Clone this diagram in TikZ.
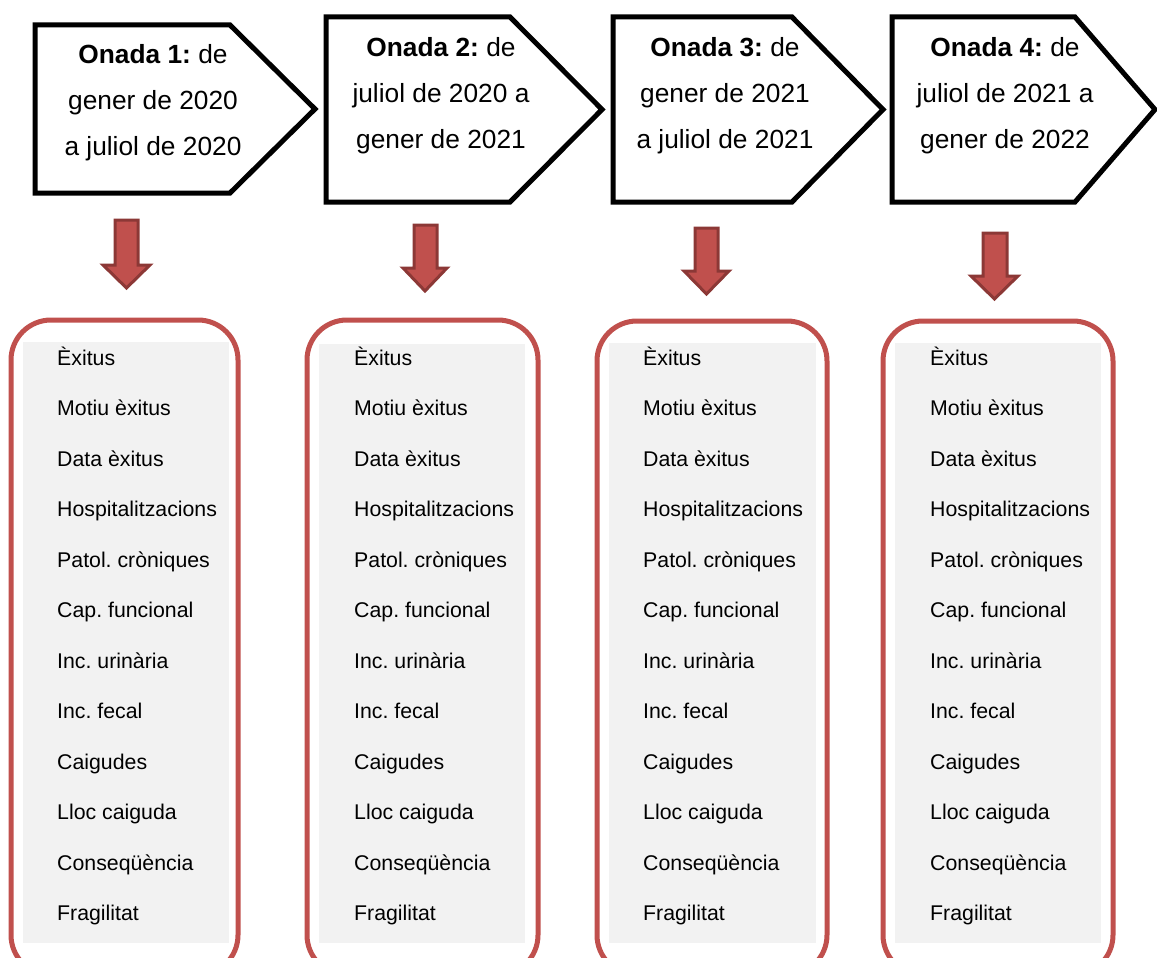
\documentclass[tikz,border=0pt]{standalone}
\usepackage{fontspec}
\setmainfont{Liberation Sans}
\definecolor{boxred}{HTML}{C0504D}
\definecolor{arrowedge}{HTML}{8C3836}
\definecolor{listgray}{HTML}{F2F2F2}
\frenchspacing
\begin{document}
\begin{tikzpicture}[x=1pt,y=-1pt,
  wave/.style={draw=black,line width=5pt,fill=white,line join=miter},
  wavetext/.style={align=center,anchor=north,inner sep=0pt,
    font=\fontsize{26.3}{46}\selectfont},
  downarrow/.style={fill=boxred,draw=arrowedge,line width=3pt,line join=miter},
  listframe/.style={draw=boxred,line width=5pt,rounded corners=40pt},
  listback/.style={fill=listgray},
  listitem/.style={anchor=base west,inner sep=0pt,
    font=\fontsize{21.3}{25}\selectfont}]
\useasboundingbox (0,0) rectangle (1157,958);
\clip (0,0) rectangle (1157,958);

% pentagon headers, one per wave
\foreach \n/\L/\T/\B/\S/\P/\tx/\tb/\txt in {
  1/35/25/193/230/315/153/63/{\textbf{Onada 1:} de\\gener de 2020\\a juliol de 2020},
  2/326/17/202/510/602/441/56/{\textbf{Onada 2:} de\\juliol de 2020 a\\gener de 2021},
  3/613/17/202/792/883/725/56/{\textbf{Onada 3:} de\\gener de 2021\\a juliol de 2021},
  4/892/17/202/1075/1155/1005/56/{\textbf{Onada 4:} de\\juliol de 2021 a\\gener de 2022}}
{
  \draw[wave] (\L,\T) -- (\S,\T) -- (\P,{(\T+\B)/2}) -- (\S,\B) -- (\L,\B) -- cycle;
  \node[wavetext] (wave\n) at (\tx,{\tb-18.8}) {\txt};
}

% block arrows pointing down
\foreach \n/\sl/\sr/\ya/\hl/\hr/\yb/\yc in {
  1/115/138/220/103/150/265/288,
  2/414/437/225/403/447/268/291,
  3/695/718/228/684/729/271/294,
  4/983/1007/233/971/1018/276/299}
{
  \draw[downarrow] (\sl,\ya) -- (\sr,\ya) -- (\sr,\yb) -- (\hr,\yb)
    -- ({(\hl+\hr)/2},\yc) -- (\hl,\yb) -- (\sl,\yb) -- cycle;
}

% variable lists in rounded frames
\foreach \n/\fl/\fr/\ft/\gl/\gr/\gt/\lx in {
  1/11/238/320/23/229/342/57,
  2/307/538/320/319/525/344/354,
  3/597/827/321/609/816/343/643,
  4/883/1113/321/895/1101/343/930}
{
  \draw[listframe] (\fl,\ft) rectangle (\fr,975);
  \fill[listback] (\gl,\gt) rectangle (\gr,943);
  \foreach \t [count=\k from 0] in {Èxitus, Motiu èxitus, Data èxitus,
      Hospitalitzacions, Patol. cròniques, Cap. funcional, Inc. urinària,
      Inc. fecal, Caigudes, Lloc caiguda, Conseqüència, Fragilitat}
    \node[listitem] (item\n-\k) at (\lx,{365+50.5*\k}) {\t};
}
\end{tikzpicture}
\end{document}
